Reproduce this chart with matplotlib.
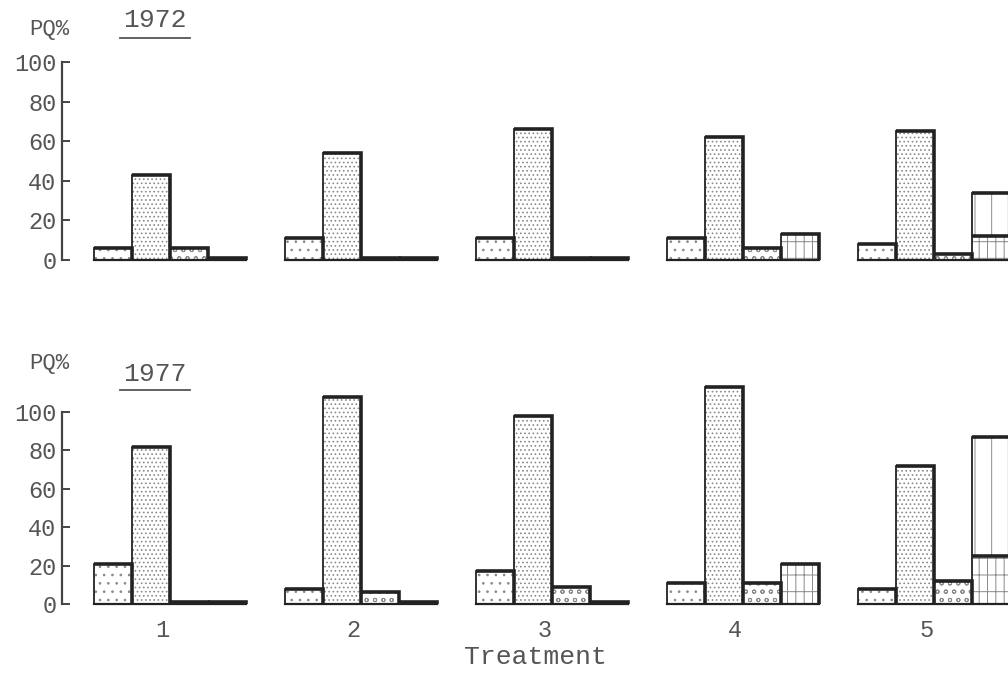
import matplotlib
matplotlib.use("Agg")
import matplotlib.pyplot as plt
import numpy as np

plt.rcParams["font.family"] = ["Liberation Mono", "DejaVu Sans Mono"]
plt.rcParams["hatch.linewidth"] = 0.7

treatments = ["1", "2", "3", "4", "5"]

# 1972 (PQ%)
a_72 = [6, 11, 11, 11, 8]
b_72 = [43, 54, 66, 62, 65]
c_72 = [6, 1, 1, 6, 3]
d_72 = [1, 0.8, 0.8, 13, 12]
d2_72 = [0, 0, 0, 0, 22]

# 1977 (PQ%)
a_77 = [21, 8, 17, 11, 8]
b_77 = [82, 108, 98, 113, 72]
c_77 = [0.8, 6, 9, 11, 12]
d_77 = [0.8, 1, 1, 21, 25]
d2_77 = [0, 0, 0, 0, 62]

TXT = "#555555"
EDGE = "#222222"
HATCH = "#8a8a8a"
W = 0.2
FW, FH = 1008, 676


def draw_bar(ax, x, h, bottom, hatch):
    x = np.asarray(x, dtype=float)
    h = np.asarray(h, dtype=float)
    bottom = np.broadcast_to(np.asarray(bottom, dtype=float), h.shape)
    # hatch layer (hatch takes the edge colour), then the outline on top
    ax.bar(x, h, W, bottom=bottom, color="white", edgecolor=HATCH,
           hatch=hatch, linewidth=0, align="edge")
    ax.bar(x, h, W, bottom=bottom, fill=False, edgecolor=EDGE,
           linewidth=1.3, align="edge")
    # heavier top and right edge, like the printed shadow
    for xi, hi, bi in zip(x, h, bottom):
        ax.plot([xi, xi + W, xi + W], [bi + hi, bi + hi, bi], color=EDGE,
                lw=2.6, solid_capstyle="butt", solid_joinstyle="miter")


def draw_panel(ax, a, b, c, d, d2):
    x = np.arange(1, len(treatments) + 1)
    left = x - 2 * W
    draw_bar(ax, left, a, 0, "..")
    draw_bar(ax, left + W, b, 0, "....")
    draw_bar(ax, left + 2 * W, c, 0, "oo")
    draw_bar(ax, left + 3 * W, d, 0, "||-")
    d2 = np.array(d2, dtype=float)
    mask = d2 > 0
    draw_bar(ax, (left + 3 * W)[mask], d2[mask], np.array(d)[mask], "|")
    for xi in left:
        ax.plot([xi, xi + 4 * W], [0, 0], color=EDGE, lw=1.6)

    ax.set_xlim(0.435, 5.387)
    ax.spines[["top", "right", "bottom"]].set_visible(False)
    ax.spines["left"].set_bounds(0, 100)
    ax.spines["left"].set_color("#444444")
    ax.spines["left"].set_linewidth(1.6)
    ax.set_yticks(range(0, 101, 20))
    ax.tick_params(axis="y", direction="in", length=6, width=1.4,
                   color="#444444", labelcolor=TXT, labelsize=17, pad=4)


fig = plt.figure(figsize=(FW / 100, FH / 100), dpi=100)
ax1 = fig.add_axes([0.0615, 0.6007, 0.9385, 0.3222])
ax2 = fig.add_axes([0.0615, 0.0923, 0.9385, 0.3494])

ax1.set_ylim(-5, 105)
ax2.set_ylim(-5, 118)

draw_panel(ax1, a_72, b_72, c_72, d_72, d2_72)
draw_panel(ax2, a_77, b_77, c_77, d_77, d2_77)

# panel headings: unit and underlined year
for year, y_pq, y_year, y_line in [("1972", 30, 20, 38),
                                   ("1977", 363, 374, 390)]:
    fig.text(49 / FW, 1 - y_pq / FH, "PQ%", ha="center", va="center",
             fontsize=16, color=TXT)
    fig.text(155 / FW, 1 - y_year / FH, year, ha="center", va="center",
             fontsize=19, color=TXT)
    fig.add_artist(plt.Line2D([120 / FW, 190 / FW], [1 - y_line / FH] * 2,
                              color=TXT, lw=1.3))

ax1.set_xticks([])
ax2.set_xticks(np.arange(1, 6) - 0.04)
ax2.set_xticklabels(treatments)
ax2.tick_params(axis="x", length=0, labelsize=17, labelcolor=TXT, pad=4)
ax2.set_xlabel("Treatment", fontsize=19, color=TXT, labelpad=2)

fig.savefig("out.png", dpi=100)
